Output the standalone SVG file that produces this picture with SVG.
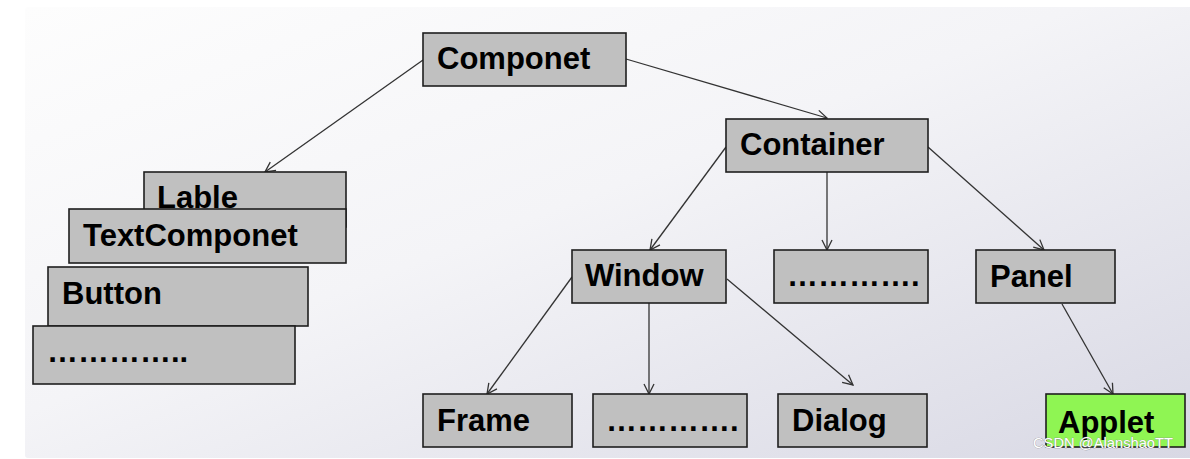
<svg xmlns="http://www.w3.org/2000/svg" width="1190" height="459" viewBox="0 0 1190 459">
<style>
.box{fill:#c0c0c0;stroke:#1e1e1e;stroke-width:1.6}
.green{fill:#8ff553}
.t{font-family:"Liberation Sans",Arial,sans-serif;font-weight:bold;font-size:31px;fill:#000}
.c line{stroke:#333;stroke-width:1.3;marker-end:url(#ah)}
.wm{font-family:"Liberation Sans",Arial,sans-serif;font-size:15px;fill:#fff;stroke:#8a8a8a;stroke-width:0.6;paint-order:stroke}
</style>
<defs>
<linearGradient id="bg" x1="0" y1="0" x2="1" y2="1">
<stop offset="0" stop-color="#fdfdfd"/>
<stop offset="0.45" stop-color="#f4f4f7"/>
<stop offset="1" stop-color="#d8d8e4"/>
</linearGradient>
<marker id="ah" viewBox="0 0 12 12" refX="11" refY="6" markerWidth="12" markerHeight="12" markerUnits="userSpaceOnUse" orient="auto">
<path d="M1,1 L11,6 L1,11" fill="none" stroke="#333" stroke-width="1.3"/>
</marker>
</defs>
<rect width="1190" height="459" fill="#fff"/>
<rect x="25" y="7" width="1170" height="451" rx="3" fill="url(#bg)"/>
<g id="connectors" class="c">
<line x1="423" y1="60" x2="265" y2="172"/>
<line x1="626" y1="59" x2="827" y2="118"/>
<line x1="726" y1="147" x2="650" y2="250"/>
<line x1="827" y1="172" x2="827" y2="250"/>
<line x1="928" y1="147" x2="1044" y2="250"/>
<line x1="572" y1="277" x2="487" y2="394"/>
<line x1="649" y1="303" x2="649" y2="394"/>
<line x1="727" y1="279" x2="853" y2="385"/>
<line x1="1062" y1="304" x2="1113" y2="394"/>
</g>
<g id="componet"><rect class="box" x="423" y="33" width="203" height="53"/><text class="t" x="437" y="69">Componet</text></g>
<g id="container"><rect class="box" x="726" y="119" width="202" height="53"/><text class="t" x="740" y="155">Container</text></g>
<g id="lable"><rect class="box" x="144" y="172" width="202" height="55"/><text class="t" x="157" y="208">Lable</text></g>
<g id="textcomponet"><rect class="box" x="69" y="209" width="277" height="54"/><text class="t" x="83" y="246">TextComponet</text></g>
<g id="button"><rect class="box" x="48" y="267" width="260" height="59"/><text class="t" x="62" y="304">Button</text></g>
<g id="more-left"><rect class="box" x="33" y="326" width="262" height="58"/><text class="t" x="47" y="362">…………..</text></g>
<g id="window"><rect class="box" x="572" y="250" width="154" height="53"/><text class="t" x="585" y="286">Window</text></g>
<g id="more-container"><rect class="box" x="774" y="250" width="154" height="53"/><text class="t" x="787" y="286">………….</text></g>
<g id="panel"><rect class="box" x="976" y="250" width="139" height="53"/><text class="t" x="990" y="287">Panel</text></g>
<g id="frame"><rect class="box" x="423" y="394" width="149" height="53"/><text class="t" x="437" y="431">Frame</text></g>
<g id="more-window"><rect class="box" x="593" y="394" width="154" height="53"/><text class="t" x="606" y="431">………….</text></g>
<g id="dialog"><rect class="box" x="778" y="394" width="149" height="53"/><text class="t" x="792" y="431">Dialog</text></g>
<g id="applet"><rect class="box green" x="1046" y="394" width="139" height="53"/><text class="t" x="1058" y="433">Applet</text></g>
<text class="wm" x="1033" y="448" textLength="140" lengthAdjust="spacingAndGlyphs">CSDN @AlanshaoTT</text>
</svg>
